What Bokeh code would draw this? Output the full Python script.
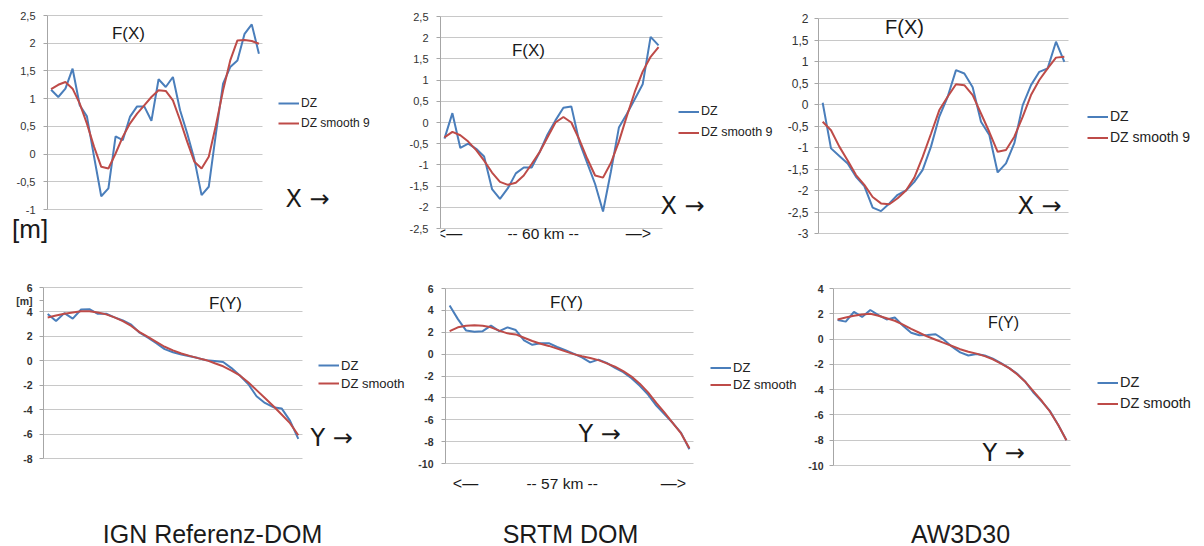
from bokeh.plotting import figure
from bokeh.models import Range1d, FixedTicker, Label, Legend, LegendItem, Div, Grid
from bokeh.layouts import row, column
from bokeh.embed import file_html
from bokeh.resources import INLINE

# ---------------- data ----------------
ign_fx_dz = [1.16, 1.03, 1.18, 1.54, 0.88, 0.68, -0.05, -0.76, -0.62, 0.32, 0.25, 0.67, 0.86, 0.86, 0.6,
             1.35, 1.21, 1.39, 0.79, 0.37, -0.1, -0.74, -0.59, 0.37, 1.27, 1.57, 1.69, 2.17, 2.34, 1.81]
ign_fx_smooth = [1.17, 1.25, 1.3, 1.18, 0.91, 0.55, 0.13, -0.23, -0.26, 0.01, 0.31, 0.55, 0.73, 0.88, 1.03,
                 1.15, 1.14, 0.97, 0.61, 0.22, -0.14, -0.26, -0.05, 0.52, 1.15, 1.69, 2.05, 2.06, 2.04, 1.99]

srtm_fx_dz = [-0.38, 0.22, -0.6, -0.5, -0.62, -0.8, -1.57, -1.8, -1.55, -1.2, -1.06, -1.06, -0.7, -0.28,
              0.05, 0.35, 0.38, -0.45, -0.95, -1.45, -2.1, -1.15, -0.12, 0.2, 0.55, 0.9, 2.02, 1.82]
srtm_fx_smooth = [-0.35, -0.22, -0.3, -0.45, -0.65, -0.9, -1.18, -1.4, -1.47, -1.42, -1.25, -0.98, -0.7, -0.35,
                  0.0, 0.13, 0.0, -0.4, -0.85, -1.25, -1.3, -0.95, -0.45, 0.15, 0.72, 1.2, 1.55, 1.78]

aw_fx_dz = [0.04, -1.02, -1.2, -1.37, -1.68, -1.9, -2.4, -2.48, -2.3, -2.1, -2.0, -1.8, -1.52, -0.98, -0.28,
            0.18, 0.8, 0.72, 0.4, -0.4, -0.71, -1.58, -1.37, -0.9, -0.02, 0.45, 0.76, 0.84, 1.46, 0.99]
aw_fx_smooth = [-0.4, -0.6, -0.98, -1.3, -1.64, -1.87, -2.15, -2.3, -2.32, -2.18, -2.0, -1.7, -1.22, -0.68, -0.13,
                0.18, 0.47, 0.45, 0.22, -0.21, -0.64, -1.1, -1.06, -0.75, -0.29, 0.22, 0.57, 0.84, 1.09, 1.11]

ign_fy_dz = [3.83, 3.25, 3.9, 3.45, 4.2, 4.22, 3.85, 3.85, 3.55, 3.3, 2.95, 2.3, 1.9, 1.45, 0.95, 0.7,
             0.52, 0.37, 0.22, 0.05, -0.02, -0.1, -0.6, -1.2, -1.9, -2.9, -3.45, -3.8, -3.9, -4.9, -6.4]
ign_fy_smooth = [3.55, 3.7, 3.85, 3.95, 4.05, 4.05, 3.95, 3.8, 3.55, 3.25, 2.85, 2.35, 1.95, 1.55, 1.15, 0.85,
                 0.6, 0.4, 0.22, 0.05, -0.2, -0.45, -0.8, -1.2, -1.75, -2.4, -3.05, -3.7, -4.4, -5.1, -6.1]

srtm_fy_dz = [4.45, 3.2, 2.15, 2.05, 2.1, 2.6, 2.1, 2.45, 2.2, 1.25, 0.85, 1.0, 1.0, 0.65, 0.35,
              0.05, -0.3, -0.75, -0.5, -0.8, -1.25, -1.65, -2.2, -2.9, -3.7, -4.7, -5.5, -6.3, -7.2, -8.7]
srtm_fy_smooth = [2.1, 2.45, 2.6, 2.65, 2.6, 2.45, 2.15, 1.9, 1.8, 1.5, 1.2, 0.95, 0.75, 0.5, 0.25,
                  0.0, -0.2, -0.35, -0.55, -0.85, -1.15, -1.55, -2.05, -2.7, -3.5, -4.45, -5.35, -6.3, -7.25, -8.6]

aw_fy_dz = [1.5, 1.38, 2.15, 1.75, 2.3, 1.9, 1.55, 1.7, 1.05, 0.5, 0.3, 0.32, 0.38, -0.05, -0.6,
            -1.05, -1.3, -1.18, -1.3, -1.55, -1.9, -2.3, -2.75, -3.4, -4.25, -4.95, -5.7, -6.8, -8.0]
aw_fy_smooth = [1.55, 1.7, 1.85, 1.95, 2.0, 1.85, 1.65, 1.45, 1.15, 0.8, 0.5, 0.2, -0.05, -0.3, -0.55,
                -0.8, -1.0, -1.15, -1.35, -1.6, -1.95, -2.3, -2.8, -3.4, -4.15, -4.9, -5.75, -6.8, -8.0]

ticks_ign_fx = [-1, -0.5, 0, 0.5, 1, 1.5, 2, 2.5]
labels_ign_fx = ["-1", "-0,5", "0", "0,5", "1", "1,5", "2", "2,5"]
ticks_srtm_fx = [-2.5, -2, -1.5, -1, -0.5, 0, 0.5, 1, 1.5, 2, 2.5]
labels_srtm_fx = ["-2,5", "-2", "-1,5", "-1", "-0,5", "0", "0,5", "1", "1,5", "2", "2,5"]
ticks_aw_fx = [-3, -2.5, -2, -1.5, -1, -0.5, 0, 0.5, 1, 1.5, 2]
labels_aw_fx = ["-3", "-2,5", "-2", "-1,5", "-1", "-0,5", "0", "0,5", "1", "1,5", "2"]
ticks_ign_fy = [-8, -6, -4, -2, 0, 2, 4, 6]
ticks_srtm_fy = [-10, -8, -6, -4, -2, 0, 2, 4, 6]
ticks_aw_fy = [-10, -8, -6, -4, -2, 0, 2, 4]
unit_label = "[m]"
unit_tick_ign_fy = 4.9

series_names_fx = ["DZ", "DZ smooth 9"]
series_names_fy = ["DZ", "DZ smooth"]
captions = ["IGN Referenz-DOM", "SRTM DOM", "AW3D30"]
distance_x = "--  60 km  --"
distance_y = "--  57 km  --"

BLUE = "#4A7EBB"
RED = "#BE4B48"
GRID = "#C8C8C8"
FONT = "Liberation Sans"
ARROW_FONT = "DejaVu Sans"
HAS_CROSS = "cross_bounds" in Grid.properties()


def panel(fig_box, ref_frame, yr, ticks, labels, dz, smooth, names, leg, tick_font, texts, standoff,
          extra_tick=None):
    x0, y0, w, h, lb = fig_box                 # figure box in page px, left border
    al, at, ar, ab = x0 + lb, y0, x0 + w, y0 + h  # actual frame
    rl, rt, rr, rb = ref_frame                   # where the chart's plot area sits
    n = len(dz)
    kx = (rr - rl) / n
    ky = (rb - rt) / (yr[1] - yr[0])
    p = figure(width=w, height=h, output_backend="svg", toolbar_location=None,
               x_axis_location=None, min_border=0, min_border_left=lb,
               min_border_right=0, min_border_top=0, min_border_bottom=0)
    p.x_range = Range1d(-0.5 - (rl - al) / kx, n - 0.5 + (ar - rr) / kx)
    p.y_range = Range1d(yr[0] - (ab - rb) / ky, yr[1] + (rt - at) / ky)
    p.outline_line_color = None
    p.background_fill_color = "white"
    p.border_fill_color = "white"
    p.xgrid.visible = False
    ax = p.yaxis[0]
    ax_ticks = list(ticks) + ([extra_tick[0]] if extra_tick else [])
    ax.ticker = FixedTicker(ticks=ax_ticks)
    ov = {t: l for t, l in zip(ticks, labels)}
    if extra_tick:
        ov[extra_tick[0]] = extra_tick[1]
    ax.major_label_overrides = ov
    ax.bounds = (yr[0], yr[1])
    ax.axis_line_color = "#A6A6A6"
    ax.major_tick_line_color = "#A6A6A6"
    ax.major_tick_out = 4
    ax.major_tick_in = 0
    ax.minor_tick_line_color = None
    ax.major_label_standoff = standoff
    ax.major_label_text_font = FONT
    ax.major_label_text_font_size = tick_font[0]
    ax.major_label_text_font_style = tick_font[1]
    ax.major_label_text_color = "#333333"

    if HAS_CROSS:
        g = p.ygrid[0]
        g.ticker = FixedTicker(ticks=ticks)
        g.grid_line_color = GRID
        g.bounds = (yr[0], yr[1])
        g.cross_bounds = (-0.5, n - 0.5)
    else:
        p.ygrid.visible = False
        p.segment(x0=[-0.5] * len(ticks), x1=[n - 0.5] * len(ticks), y0=ticks, y1=ticks,
                  line_color=GRID, line_width=1)

    xs = list(range(n))
    r1 = p.line(xs, dz, line_color=BLUE, line_width=2)
    r2 = p.line(xs, smooth, line_color=RED, line_width=2)

    lx, ly, gh, lsize = leg
    legend = Legend(items=[LegendItem(label=names[0], renderers=[r1]),
                           LegendItem(label=names[1], renderers=[r2])],
                    location=(lx - al, ab - (ly + gh * 1.5)),
                    glyph_width=21, glyph_height=gh, label_height=gh, label_width=10,
                    spacing=0, padding=0, margin=0, label_standoff=2,
                    border_line_color=None, background_fill_alpha=0,
                    label_text_font=FONT, label_text_font_size=lsize,
                    label_text_color="#222222")
    p.add_layout(legend)

    for (t, px, py, size, align, font) in texts:
        p.add_layout(Label(x=px - al, y=ab - py, x_units="screen", y_units="screen", text=t,
                           text_font=font, text_font_size=f"{size}px", text_align=align,
                           text_baseline="middle", text_color="#1A1A1A"))
    return p


f1 = panel((0, 0, 395, 216, 47), (47, 15, 262, 209), (-1, 2.5), ticks_ign_fx, labels_ign_fx,
           ign_fx_dz, ign_fx_smooth, series_names_fx, (278, 103, 20, "12px"), ("11px", "normal"),
           [("F(X)", 128, 33, 17, "center", FONT),
            ("X  →", 285, 198, 24, "left", ARROW_FONT)], 8)

m1 = Div(text=unit_label, width=395, height=46, margin=0,
         styles={"font-family": FONT, "font-size": "26px", "line-height": "26px",
                 "padding-left": "12px", "color": "#1A1A1A"})

f2 = panel((395, 0, 380, 262, 45), (440, 16, 662, 228), (-2.5, 2.5), ticks_srtm_fx, labels_srtm_fx,
           srtm_fx_dz, srtm_fx_smooth, series_names_fx, (678, 111, 21, "12.5px"), ("11px", "normal"),
           [("F(X)", 528, 50, 17, "center", FONT),
            ("X  →", 660, 205, 24, "left", ARROW_FONT),
            ("<—", 449, 233, 16, "center", FONT),
            (distance_x, 547, 233, 15.5, "center", FONT),
            ("—>", 638, 233, 16, "center", FONT)], 8)

f3 = panel((775, 0, 429, 262, 43), (818, 18, 1068, 233), (-3, 2), ticks_aw_fx, labels_aw_fx,
           aw_fx_dz, aw_fx_smooth, series_names_fx, (1087, 116, 21, "14px"), ("12px", "normal"),
           [("F(X)", 904, 26, 20, "center", FONT),
            ("X  →", 1017, 205, 24, "left", ARROW_FONT)], 6)

f4 = panel((0, 262, 410, 284, 43), (43, 287, 302, 458), (-8, 6), ticks_ign_fy, [str(t) for t in ticks_ign_fy],
           ign_fy_dz, ign_fy_smooth, series_names_fy, (318, 365, 18, "13px"), ("10.5px", "bold"),
           [("F(Y)", 225, 303, 17, "center", FONT),
            ("Y  →", 310, 437, 24, "left", ARROW_FONT),
            (captions[0], 212, 533, 25, "center", FONT)], 7,
           extra_tick=(unit_tick_ign_fy, unit_label))

f5 = panel((410, 262, 393, 284, 35), (445, 288, 693, 463), (-10, 6), ticks_srtm_fy, [str(t) for t in ticks_srtm_fy],
           srtm_fy_dz, srtm_fy_smooth, series_names_fy, (710, 367, 17, "13px"), ("10.5px", "bold"),
           [("F(Y)", 566, 302, 17, "center", FONT),
            ("Y  →", 578, 433, 24, "left", ARROW_FONT),
            ("<—", 465, 483, 16, "center", FONT),
            (distance_y, 566, 483, 15.5, "center", FONT),
            ("—>", 673, 483, 16, "center", FONT),
            (captions[1], 570, 533, 25, "center", FONT)], 8)

f6 = panel((803, 262, 401, 284, 30), (833, 288, 1070, 465), (-10, 4), ticks_aw_fy, [str(t) for t in ticks_aw_fy],
           aw_fy_dz, aw_fy_smooth, series_names_fy, (1097, 382, 21, "14.5px"), ("10.5px", "bold"),
           [("F(Y)", 1003, 322, 16, "center", FONT),
            ("Y  →", 982, 452, 24, "left", ARROW_FONT),
            (captions[2], 960, 533, 25, "center", FONT)], 6)

layout = column(row(column(f1, m1), f2, f3), row(f4, f5, f6))

open("out.html", "w").write(file_html(layout, INLINE))
